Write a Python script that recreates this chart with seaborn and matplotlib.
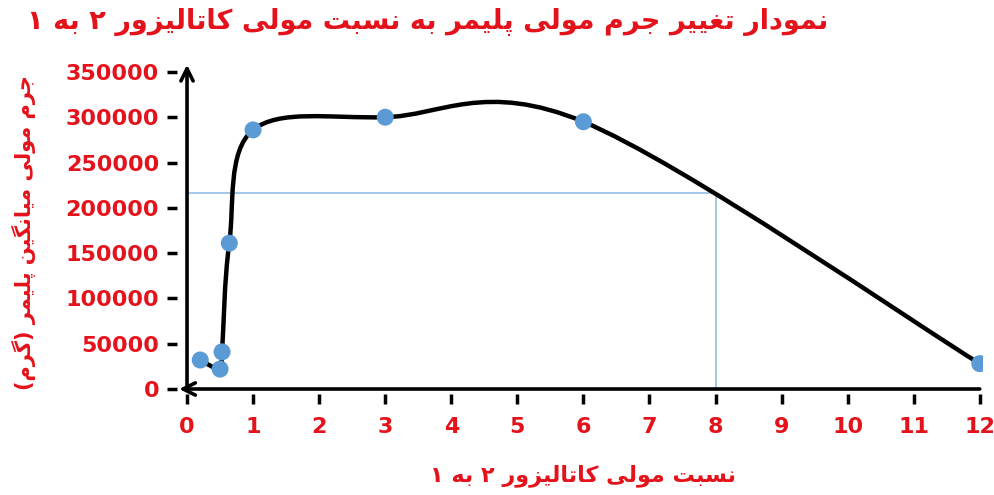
import matplotlib
matplotlib.use("Agg")
import matplotlib.pyplot as plt
from matplotlib.path import Path
from matplotlib.patches import PathPatch
import seaborn as sns
import pandas as pd

# ---------------- data ----------------
ratio = [0.2, 0.5, 0.53, 0.64, 1, 3, 6, 12]
mol_mass = [32000, 22000, 41000, 161000, 286000, 300000, 295000, 28000]
x_ticks = list(range(0, 13))
y_ticks = list(range(0, 350001, 50000))
ref_x = 8
ref_y = 216000

title_txt = "نمودار تغییر جرم مولی پلیمر به نسبت مولی کاتالیزور ۲ به ۱"
xlabel_txt = "نسبت مولی کاتالیزور ۲ به ۱"
ylabel_txt = "جرم مولی میانگین پلیمر (گرم)"

# ------------- Arabic/Persian shaping (presentation forms) -------------
FORMS = {  # isolated, final, initial, medial
    'ا': ('\uFE8D', '\uFE8E', None, None),
    'د': ('\uFEA9', '\uFEAA', None, None),
    'ر': ('\uFEAD', '\uFEAE', None, None),
    'ز': ('\uFEAF', '\uFEB0', None, None),
    'و': ('\uFEED', '\uFEEE', None, None),
    'ب': ('\uFE8F', '\uFE90', '\uFE91', '\uFE92'),
    'پ': ('\uFB56', '\uFB57', '\uFB58', '\uFB59'),
    'ت': ('\uFE95', '\uFE96', '\uFE97', '\uFE98'),
    'ج': ('\uFE9D', '\uFE9E', '\uFE9F', '\uFEA0'),
    'س': ('\uFEB1', '\uFEB2', '\uFEB3', '\uFEB4'),
    'غ': ('\uFECD', '\uFECE', '\uFECF', '\uFED0'),
    'ک': ('\uFB8E', '\uFB8F', '\uFB90', '\uFB91'),
    'گ': ('\uFB92', '\uFB93', '\uFB94', '\uFB95'),
    'ل': ('\uFEDD', '\uFEDE', '\uFEDF', '\uFEE0'),
    'م': ('\uFEE1', '\uFEE2', '\uFEE3', '\uFEE4'),
    'ن': ('\uFEE5', '\uFEE6', '\uFEE7', '\uFEE8'),
    'ه': ('\uFEE9', '\uFEEA', '\uFEEB', '\uFEEC'),
    'ی': ('\uFBFC', '\uFBFD', '\uFBFE', '\uFBFF'),
}
MIRROR = {'(': ')', ')': '('}


def dual(c):
    return c in FORMS and FORMS[c][2] is not None


def joins(c):
    return c in FORMS


def shape(text):
    out = []
    n = len(text)
    for i, c in enumerate(text):
        if c not in FORMS:
            out.append(MIRROR.get(c, c))
            continue
        prev = text[i - 1] if i > 0 else ''
        nxt = text[i + 1] if i < n - 1 else ''
        cp = dual(prev)
        cn = dual(c) and joins(nxt)
        iso, fin, ini, med = FORMS[c]
        if cp and cn:
            out.append(med)
        elif cp:
            out.append(fin)
        elif cn:
            out.append(ini)
        else:
            out.append(iso)
    return ''.join(reversed(out))


# ---------------- style ----------------
sns.set_theme(style="white")
plt.rcParams['font.family'] = ['DejaVu Sans']
RED = '#e3121b'
BLUE = '#5b9bd5'
REF = '#9dc3e6'

fig = plt.figure(figsize=(9.95, 4.95), dpi=100)
ax = fig.add_axes([0.178, 0.205, 0.810, 0.668])
ax.set_xlim(-0.15, 12.05)
ax.set_ylim(-5000, 360000)

df = pd.DataFrame({"ratio": ratio, "mw": mol_mass})

# reference lines
ax.plot([0, ref_x], [ref_y, ref_y], color=REF, lw=1.3, zorder=1)
ax.plot([ref_x, ref_x], [0, ref_y], color=REF, lw=1.3, zorder=1)

# smooth curve (Bezier through data points, Excel-like smoothing)
pts = list(zip(ratio, mol_mass))
verts = [pts[0]]
codes = [Path.MOVETO]
for i in range(len(pts) - 1):
    p0 = pts[i - 1] if i > 0 else pts[i]
    p1 = pts[i]
    p2 = pts[i + 1]
    p3 = pts[i + 2] if i + 2 < len(pts) else pts[i + 1]
    c1 = (p1[0] + (p2[0] - p0[0]) / 6, p1[1] + (p2[1] - p0[1]) / 6)
    c2 = (p2[0] - (p3[0] - p1[0]) / 6, p2[1] - (p3[1] - p1[1]) / 6)
    verts += [c1, c2, p2]
    codes += [Path.CURVE4] * 3
ax.add_patch(PathPatch(Path(verts, codes), fill=False, edgecolor='black',
                       lw=3.2, zorder=2, capstyle='round', joinstyle='round'))

sns.scatterplot(data=df, x="ratio", y="mw", ax=ax, color=BLUE, s=150,
                edgecolor='none', zorder=3, legend=False)

# axes with arrows
for s in ax.spines.values():
    s.set_visible(False)
ax.annotate('', xy=(0, 358000), xytext=(0, 0),
            arrowprops=dict(arrowstyle='->', lw=2.6, color='black',
                            mutation_scale=22, shrinkA=0, shrinkB=0))
ax.annotate('', xy=(-0.12, 0), xytext=(12, 0),
            arrowprops=dict(arrowstyle='->', lw=2.6, color='black',
                            mutation_scale=22, shrinkA=0, shrinkB=0))

ax.set_xticks(x_ticks)
ax.set_yticks(y_ticks)
ax.set_xticklabels([str(v) for v in x_ticks])
ax.set_yticklabels([str(v) for v in y_ticks])
ax.tick_params(axis='both', direction='out', length=7, width=2.5,
               color='black', labelcolor=RED, labelsize=16,
               bottom=True, left=True)
ax.tick_params(axis='x', pad=10)
ax.tick_params(axis='y', pad=6)
for lab in ax.get_xticklabels() + ax.get_yticklabels():
    lab.set_fontweight('bold')
ax.set_xlabel('')
ax.set_ylabel('')
ax.grid(False)

fig.text(0.430, 0.955, shape(title_txt), color=RED, fontsize=19.5,
         fontweight='bold', ha='center', va='center')
fig.text(0.586, 0.040, shape(xlabel_txt), color=RED, fontsize=16,
         fontweight='bold', ha='center', va='center')
fig.text(0.024, 0.531, shape(ylabel_txt), color=RED, fontsize=15,
         fontweight='bold', ha='center', va='center', rotation=90)

fig.savefig('out.png', dpi=100)
